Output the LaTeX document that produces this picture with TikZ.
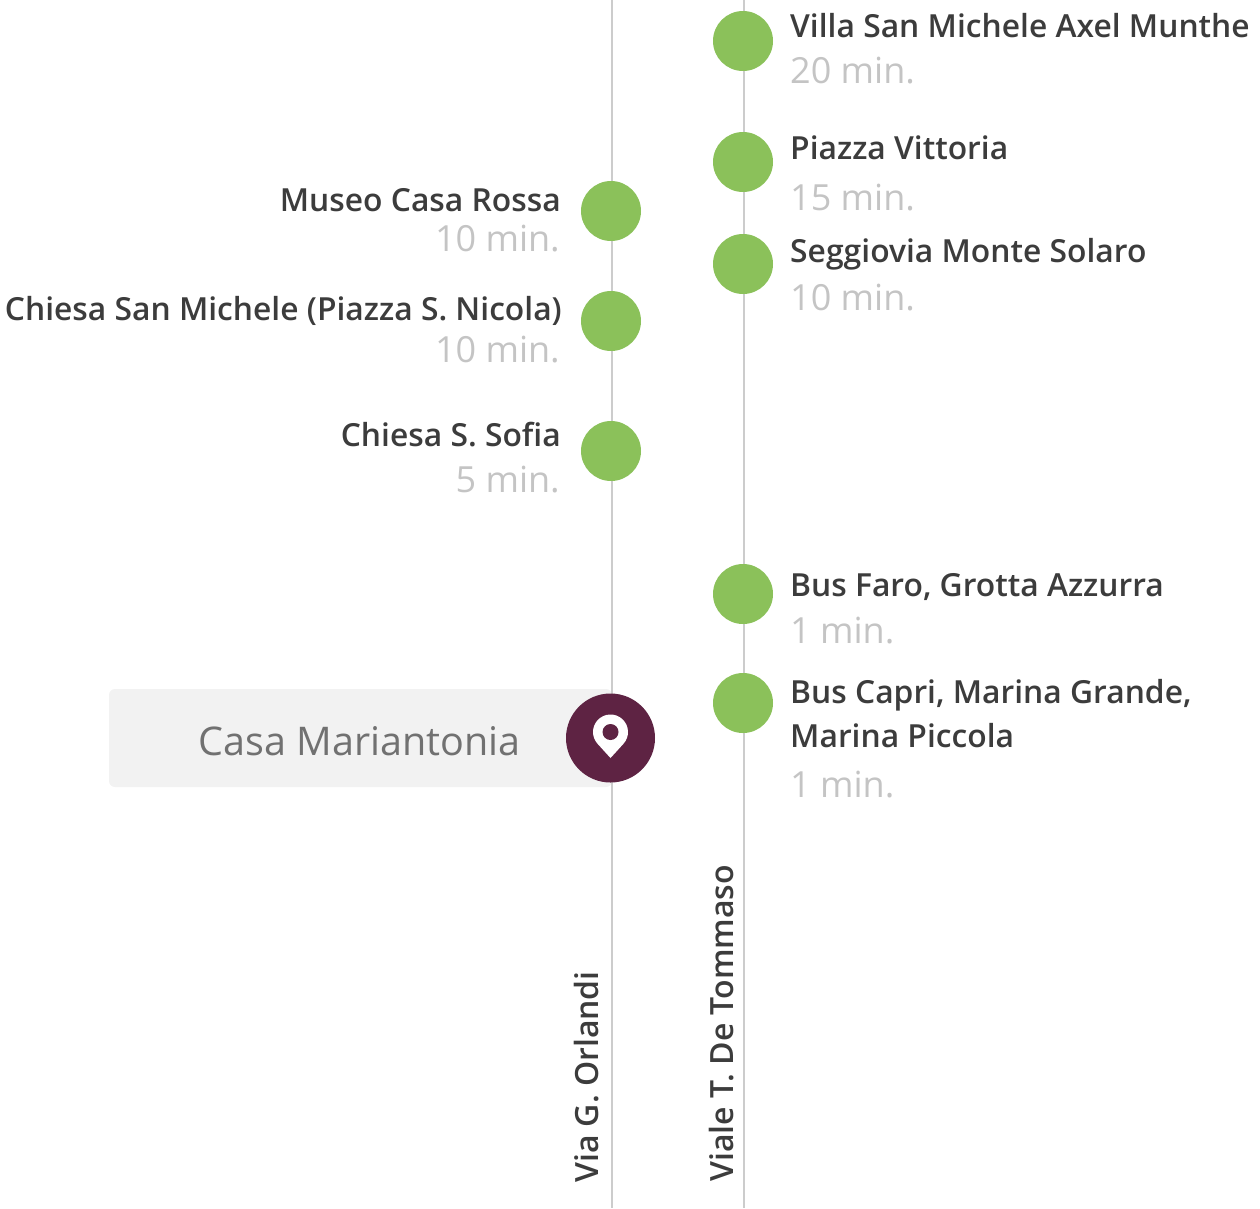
\documentclass[tikz,border=0pt]{standalone}
\usepackage{fontspec}
\setmainfont{Open Sans}
\IfFontExistsTF{Open Sans Semibold}{\newfontfamily\semi{Open Sans Semibold}}{%
  \IfFontExistsTF{Open Sans SemiBold}{\newfontfamily\semi{Open Sans SemiBold}}{%
    \IfFontExistsTF{OpenSans-Semibold}{\newfontfamily\semi{OpenSans-Semibold}}{%
      \IfFontExistsTF{OpenSans-SemiBold}{\newfontfamily\semi{OpenSans-SemiBold}}{%
        \newcommand\semi{\bfseries}}}}}
\definecolor{dotgreen}{HTML}{8BC15A}
\definecolor{pinpurple}{HTML}{5E2343}
\definecolor{linegray}{HTML}{CCCCCC}
\definecolor{boxgray}{HTML}{F2F2F2}
\definecolor{namedark}{HTML}{3C3C3C}
\definecolor{mingray}{HTML}{C4C4C4}
\definecolor{homegray}{HTML}{717171}
\begin{document}
\begin{tikzpicture}[x=1pt,y=-1pt,
  dot/.style={circle,fill=dotgreen,minimum size=60pt,inner sep=0pt},
  place/.style={inner sep=0pt,text=namedark,font=\semi\fontsize{31.8}{38}\selectfont},
  mins/.style={inner sep=0pt,text=mingray,font=\fontsize{36}{42}\selectfont},
  street/.style={inner sep=0pt,text=namedark,font=\semi\fontsize{32}{38}\selectfont,rotate=90,anchor=base west},
  road/.style={draw=linegray,line width=2pt}]
\useasboundingbox (0,0) rectangle (1260,1208);
% home box
\fill[boxgray,rounded corners=6pt] (109,689) rectangle (612,787);
\node[inner sep=0pt,text=homegray,font=\fontsize{39.5}{46}\selectfont,anchor=base east] (home) at (521,755) {Casa Mariantonia};
% roads
\coordinate (lt) at (612,0);
\coordinate (lb) at (612,1208);
\coordinate (rt) at (744,0);
\coordinate (rb) at (744,1208);
\draw[road] (lt) -- (lb);
\draw[road] (rt) -- (rb);
% right stops
\node[dot] (r1) at (743,41) {};
\node[dot] (r2) at (743,162) {};
\node[dot] (r3) at (743,264) {};
\node[dot] (r4) at (743,594) {};
\node[dot] (r5) at (743,703) {};
\node[place,anchor=base west] (r1n) at (790,37) {Villa San Michele Axel Munthe};
\node[mins,anchor=base west] (r1m) at (790,83) {20 min.};
\node[place,anchor=base west] (r2n) at (790,159) {Piazza Vittoria};
\node[mins,anchor=base west] (r2m) at (790,210) {15 min.};
\node[place,anchor=base west] (r3n) at (790,262) {Seggiovia Monte Solaro};
\node[mins,anchor=base west] (r3m) at (790,310) {10 min.};
\node[place,anchor=base west] (r4n) at (790,596) {Bus Faro, Grotta Azzurra};
\node[mins,anchor=base west] (r4m) at (790,643) {1 min.};
\node[place,anchor=base west] (r5n) at (790,703) {Bus Capri, Marina Grande,};
\node[place,anchor=base west] (r5n2) at (790,747) {Marina Piccola};
\node[mins,anchor=base west] (r5m) at (790,797) {1 min.};
% left stops
\node[dot] (l1) at (611,211) {};
\node[dot] (l2) at (611,321) {};
\node[dot] (l3) at (611,451) {};
\node[place,anchor=base east] (l1n) at (561,211) {Museo Casa Rossa};
\node[mins,anchor=base east] (l1m) at (560,251) {10 min.};
\node[place,anchor=base east] (l2n) at (562,320) {Chiesa San Michele (Piazza S. Nicola)};
\node[mins,anchor=base east] (l2m) at (560,362) {10 min.};
\node[place,anchor=base east] (l3n) at (561,446) {Chiesa S. Sofia};
\node[mins,anchor=base east] (l3m) at (560,492) {5 min.};
% pin
\node[circle,fill=pinpurple,minimum size=89pt,inner sep=0pt] (pin) at (610.5,738) {};
\begin{scope}[shift={(610.5,732)},yscale=-1]
  \fill[white] (0,-26) -- (-42.3:17.5) arc[start angle=-42.3,end angle=222.3,radius=17.5] -- cycle;
  \fill[pinpurple] (0,0) circle[radius=8];
\end{scope}
% street names
\node[street] (s1) at (598,1183) {Via G. Orlandi};
\node[street] (s2) at (733,1182) {Viale T. De Tommaso};
\end{tikzpicture}
\end{document}
